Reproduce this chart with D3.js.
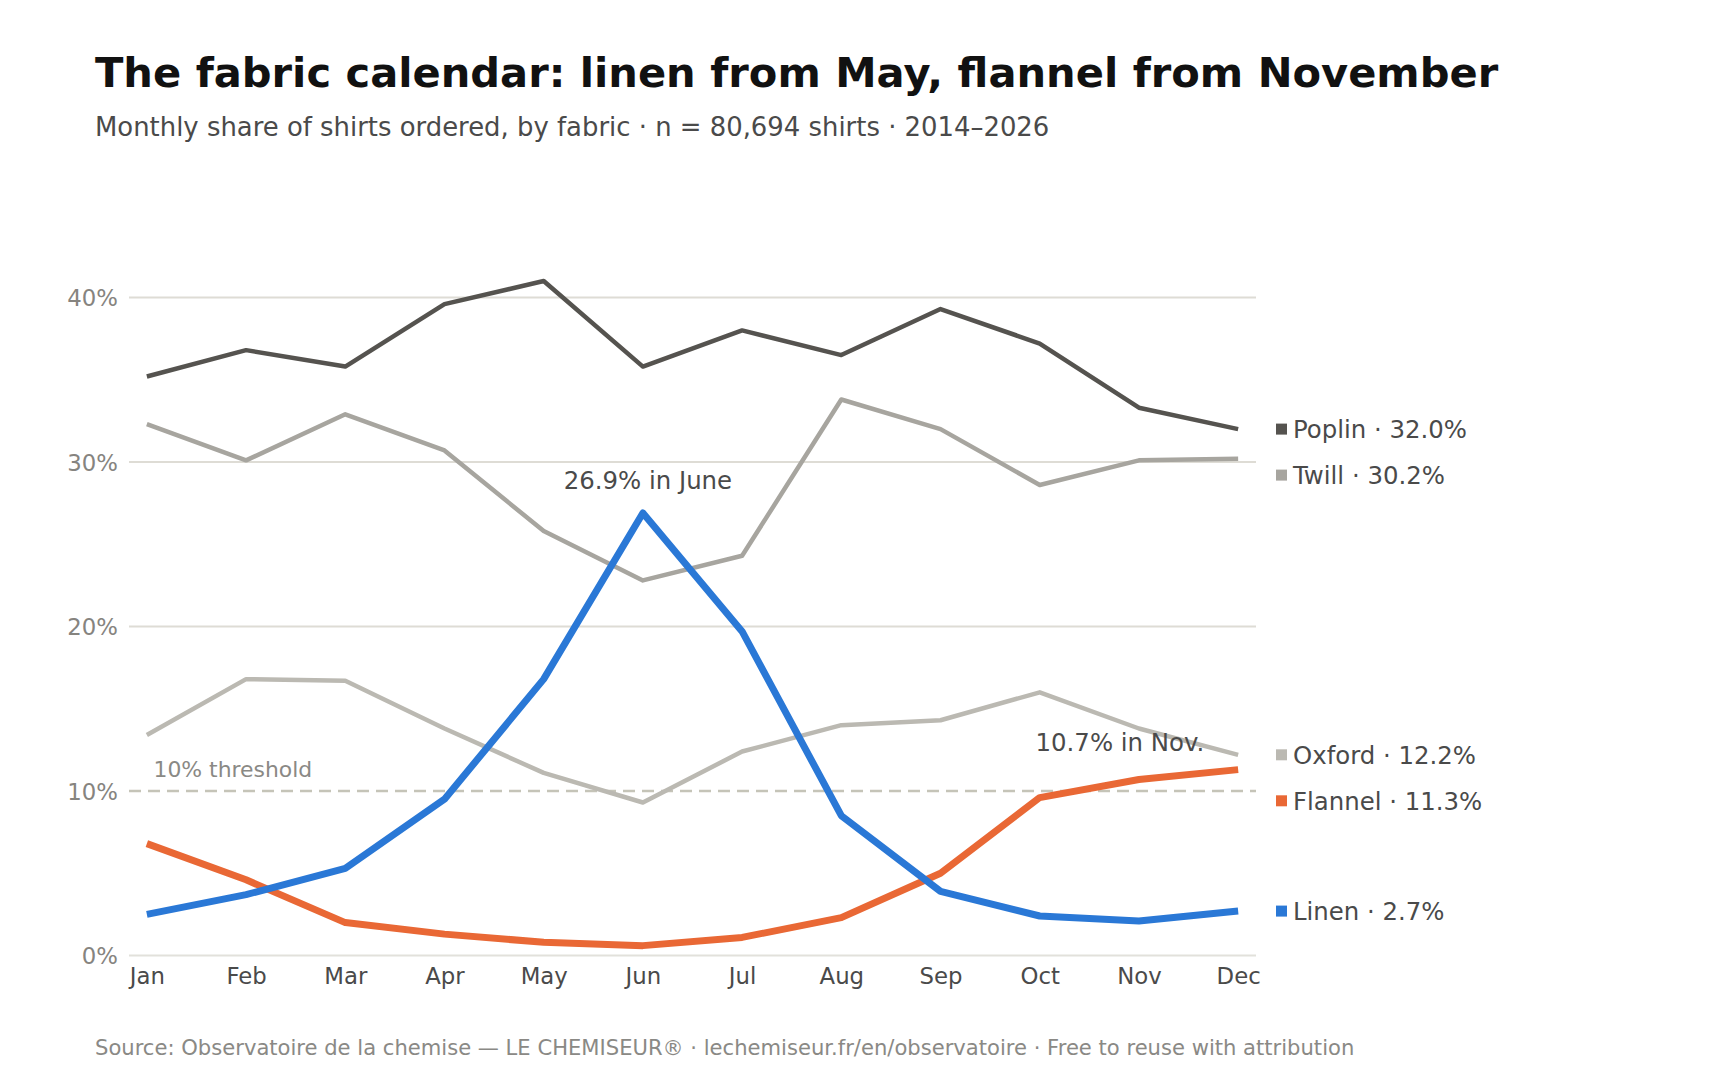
<!DOCTYPE html>
<html>
<head>
<meta charset="utf-8">
<script src="https://cdn.jsdelivr.net/npm/d3@7"></script>
<style>
  html, body { margin: 0; padding: 0; background: #ffffff; }
  svg { display: block; font-family: "DejaVu Sans", sans-serif; }
</style>
</head>
<body>
<svg id="chart" width="1720" height="1080"></svg>
<script>
const months = ["Jan","Feb","Mar","Apr","May","Jun","Jul","Aug","Sep","Oct","Nov","Dec"];
const poplin  = [35.2, 36.8, 35.8, 39.6, 41.0, 35.8, 38.0, 36.5, 39.3, 37.2, 33.3, 32.0];
const twill   = [32.3, 30.1, 32.9, 30.7, 25.8, 22.8, 24.3, 33.8, 32.0, 28.6, 30.1, 30.2];
const oxford  = [13.4, 16.8, 16.7, 13.8, 11.1, 9.3, 12.4, 14.0, 14.3, 16.0, 13.8, 12.2];
const flannel = [6.8, 4.6, 2.0, 1.3, 0.8, 0.6, 1.1, 2.3, 5.0, 9.6, 10.7, 11.3];
const linen   = [2.5, 3.7, 5.3, 9.5, 16.8, 26.9, 19.7, 8.5, 3.9, 2.4, 2.1, 2.7];
const seriesNames = ["Poplin", "Twill", "Oxford", "Flannel", "Linen"];
const yTicks = [0, 10, 20, 30, 40];
const threshold = 10;

const series = [
  { name: "Poplin",  values: poplin,  color: "#55534f", width: 4.5 },
  { name: "Twill",   values: twill,   color: "#a7a59f", width: 4.5 },
  { name: "Oxford",  values: oxford,  color: "#bbb9b2", width: 4.5 },
  { name: "Flannel", values: flannel, color: "#e96835", width: 7 },
  { name: "Linen",   values: linen,   color: "#2a78d6", width: 7 }
];

const svg = d3.select("#chart");
const left = 129, right = 1256, y0 = 955.5, y40 = 297.5;

const x = d3.scalePoint().domain(months).range([left, right]).padding(0.18);
const y = d3.scaleLinear().domain([0, 40]).range([y0, y40]);

// Title & subtitle
svg.append("text").attr("x", 95).attr("y", 87)
  .attr("font-size", 41.6).attr("font-weight", "bold").attr("fill", "#111")
  .text("The fabric calendar: linen from May, flannel from November");
svg.append("text").attr("x", 95).attr("y", 136)
  .attr("font-size", 25.9).attr("fill", "#4a4a4a")
  .text("Monthly share of shirts ordered, by fabric · n = 80,694 shirts · 2014–2026");

// Grid lines
const grid = svg.append("g");
yTicks.filter(t => t !== threshold).forEach(t => {
  grid.append("line")
    .attr("x1", left).attr("x2", right)
    .attr("y1", y(t)).attr("y2", y(t))
    .attr("stroke", t === 0 ? "#e2e1db" : "#dedcd5")
    .attr("stroke-width", 2);
});

// Threshold line
svg.append("line")
  .attr("x1", left).attr("x2", right)
  .attr("y1", y(threshold)).attr("y2", y(threshold))
  .attr("stroke", "#c5c4b8").attr("stroke-width", 2.5)
  .attr("stroke-dasharray", "12,7");
svg.append("text").attr("x", 153.5).attr("y", y(threshold) - 14)
  .attr("font-size", 21.9).attr("fill", "#8a8985")
  .text("10% threshold");

// Y axis
const yAxis = d3.axisLeft(y).tickValues(yTicks).tickSize(0).tickPadding(0)
  .tickFormat(d => d + "%");
const ya = svg.append("g").attr("transform", `translate(118,0)`).call(yAxis);
ya.select(".domain").remove();
ya.selectAll("text").attr("font-size", 22.8).attr("fill", "#86847f")
  .attr("font-family", "DejaVu Sans, sans-serif").attr("dy", "0.36em");

// X axis
const xAxis = d3.axisBottom(x).tickSize(0).tickPadding(0);
const xa = svg.append("g").attr("transform", `translate(0,${y0 + 28})`).call(xAxis);
xa.select(".domain").remove();
xa.selectAll("text").attr("font-size", 22.8).attr("fill", "#4a4a4a")
  .attr("font-family", "DejaVu Sans, sans-serif").attr("dy", "0");

// Lines
const line = d3.line().x((d, i) => x(months[i])).y(d => y(d));
series.forEach(s => {
  svg.append("path")
    .attr("d", line(s.values))
    .attr("fill", "none")
    .attr("stroke", s.color)
    .attr("stroke-width", s.width)
    .attr("stroke-linejoin", "round")
    .attr("stroke-linecap", "butt");
});

// Annotations
svg.append("text").attr("x", x("Jun") + 5).attr("y", y(linen[5]) - 24)
  .attr("text-anchor", "middle").attr("font-size", 24.4).attr("fill", "#4a4a4a")
  .text(`${linen[5].toFixed(1)}% in June`);
svg.append("text").attr("x", x("Nov") - 19).attr("y", y(flannel[10]) - 28)
  .attr("text-anchor", "middle").attr("font-size", 24.4).attr("fill", "#4a4a4a")
  .text(`${flannel[10].toFixed(1)}% in Nov.`);

// Legend with collision avoidance
const lastIdx = months.length - 1;
const items = series.map(s => ({ s, ty: y(s.values[lastIdx]) }))
  .sort((a, b) => a.ty - b.ty);
const gap = 46;
for (let i = 1; i < items.length; i++) {
  if (items[i].ty - items[i - 1].ty < gap) items[i].ty = items[i - 1].ty + gap;
}
const lg = svg.append("g");
items.forEach(it => {
  lg.append("rect").attr("x", 1276).attr("y", it.ty - 5.5)
    .attr("width", 11).attr("height", 11).attr("fill", it.s.color);
  lg.append("text").attr("x", 1293).attr("y", it.ty).attr("dy", "0.36em")
    .attr("font-size", 24.4).attr("fill", "#4a4a4a")
    .text(`${it.s.name} · ${it.s.values[lastIdx].toFixed(1)}%`);
});

// Source
svg.append("text").attr("x", 95).attr("y", 1055)
  .attr("font-size", 21.1).attr("fill", "#8a8985")
  .text("Source: Observatoire de la chemise — LE CHEMISEUR® · lechemiseur.fr/en/observatoire · Free to reuse with attribution");
</script>
</body>
</html>
